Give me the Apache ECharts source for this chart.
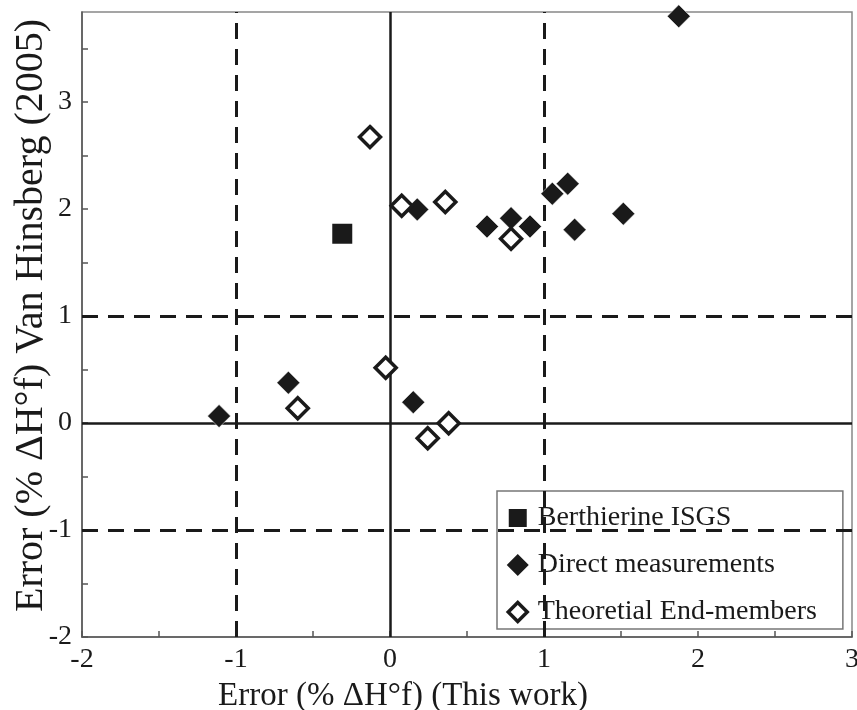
<!DOCTYPE html>
<html><head><meta charset="utf-8">
<script src="https://cdn.jsdelivr.net/npm/echarts@6/dist/echarts.min.js"></script>
<style>html,body{margin:0;padding:0;background:#fff}#c{width:857px;height:710px}</style>
</head><body><div id="c"></div>
<script>
const seriesNames = ['Berthierine ISGS', 'Direct measurements', 'Theoretial End-members'];
const berthierine = [[-0.31, 1.768]];
const directMeasurements = [
  [-1.11, 0.064], [-0.66, 0.376], [0.151, 0.194], [0.177, 1.995],
  [0.63, 1.836], [0.786, 1.913], [0.909, 1.836], [1.054, 2.142],
  [1.154, 2.236], [1.199, 1.806], [1.515, 1.955], [1.875, 3.80]
];
const theoreticalEndMembers = [
  [-0.13, 2.671], [0.076, 2.03], [0.359, 2.064], [0.786, 1.721],
  [-0.599, 0.138], [-0.028, 0.516], [0.381, -0.002], [0.245, -0.142]
];
const xTicks = [-2, -1, 0, 1, 2, 3];
const yTicks = [-2, -1, 0, 1, 2, 3];
const solidLinesX = [0], solidLinesY = [0];
const dashedLinesX = [-1, 1], dashedLinesY = [-1, 1];

const FONT = "'Liberation Serif','Times New Roman',serif";
const ink = '#1a1a1a';
const fmt = ticks => v => ticks.some(t => Math.abs(t - v) < 1e-9) ? String(Math.round(v)) : '';
const squareIcon = 'path://M0,0M22,22M2,2L20,2L20,20L2,20Z';
const diamondIcon = 'path://M11,0L22,11L11,22L0,11Z';
const openDiamondIcon = 'path://M0,0M22,22M11,1.5L20.5,11L11,20.5L1.5,11Z';

const chart = echarts.init(document.getElementById('c'));
chart.setOption({
  backgroundColor: '#fff',
  animation: false,
  grid: { left: 82, right: 5, top: 12, bottom: 73, outerBoundsMode: 'none', containLabel: false,
          show: true, borderColor: '#888', borderWidth: 1.5 },
  xAxis: {
    type: 'value', min: -2, max: 3, interval: 0.5,
    name: 'Error (% ΔH°f) (This work)', nameLocation: 'middle', nameGap: 43, nameMoveOverlap: false,
    nameTextStyle: { fontFamily: FONT, fontSize: 33, color: ink, padding: [0, 128, 0, 0] },
    axisLine: { show: true, onZero: false, lineStyle: { color: '#555', width: 1.5 } },
    axisTick: { show: true, inside: true, length: 6, lineStyle: { color: '#555', width: 1.5 } },
    axisLabel: { formatter: fmt(xTicks), fontFamily: FONT, fontSize: 28, color: ink, margin: 9 },
    splitLine: { show: false }
  },
  yAxis: {
    type: 'value', min: -2, max: 3.84, interval: 0.5,
    name: 'Error (% ΔH°f) Van Hinsberg (2005)', nameLocation: 'middle', nameGap: 31, nameMoveOverlap: false,
    nameTextStyle: { fontFamily: FONT, fontSize: 40, color: ink, padding: [0, 0, 0, 18] },
    axisLine: { show: true, onZero: false, lineStyle: { color: '#555', width: 1.5 } },
    axisTick: { show: true, inside: true, length: 6, lineStyle: { color: '#555', width: 1.5 } },
    axisLabel: { formatter: fmt(yTicks), showMaxLabel: false, fontFamily: FONT, fontSize: 28, color: ink, margin: 10 },
    splitLine: { show: false }
  },
  legend: {
    orient: 'vertical', left: 497, top: 491,
    backgroundColor: '#fff', borderColor: '#777', borderWidth: 1.5,
    padding: [13, 26, 3, 8], itemGap: 19, itemWidth: 22, itemHeight: 22,
    textStyle: { fontFamily: FONT, fontSize: 28, color: ink, padding: [0, 0, 0, 4] },
    data: [
      { name: seriesNames[0], icon: squareIcon, itemStyle: { color: ink, borderWidth: 0 } },
      { name: seriesNames[1], icon: diamondIcon, itemStyle: { color: ink, borderWidth: 0 } },
      { name: seriesNames[2], icon: openDiamondIcon, itemStyle: { color: '#fff', borderColor: ink, borderWidth: 3.5 } }
    ]
  },
  series: [
    {
      name: seriesNames[0], type: 'scatter', symbol: 'rect', symbolSize: 20, z: 5,
      itemStyle: { color: ink, opacity: 1 }, data: berthierine
    },
    {
      name: seriesNames[1], type: 'scatter', symbol: 'diamond', symbolSize: 23, z: 5,
      itemStyle: { color: ink, opacity: 1, borderColor: '#fff', borderWidth: 0.5 }, data: directMeasurements
    },
    {
      name: seriesNames[2], type: 'scatter', symbol: 'diamond', symbolSize: 21, z: 6,
      itemStyle: { color: '#fff', opacity: 1, borderColor: ink, borderWidth: 3.5 }, data: theoreticalEndMembers
    },
    {
      type: 'scatter', data: [], silent: true, z: 2,
      markLine: {
        silent: true, symbol: 'none', label: { show: false }, animation: false,
        data: [
          ...solidLinesX.map(v => ({ xAxis: v, lineStyle: { type: 'solid', color: ink, width: 2.5, opacity: 1 } })),
          ...solidLinesY.map(v => ({ yAxis: v, lineStyle: { type: 'solid', color: ink, width: 2.5, opacity: 1 } })),
          ...dashedLinesX.map(v => ({ xAxis: v, lineStyle: { type: [16, 10], color: ink, width: 3, opacity: 1 } })),
          ...dashedLinesY.map(v => ({ yAxis: v, lineStyle: { type: [16, 10], color: ink, width: 3, opacity: 1 } }))
        ]
      }
    }
  ]
});
</script></body></html>
